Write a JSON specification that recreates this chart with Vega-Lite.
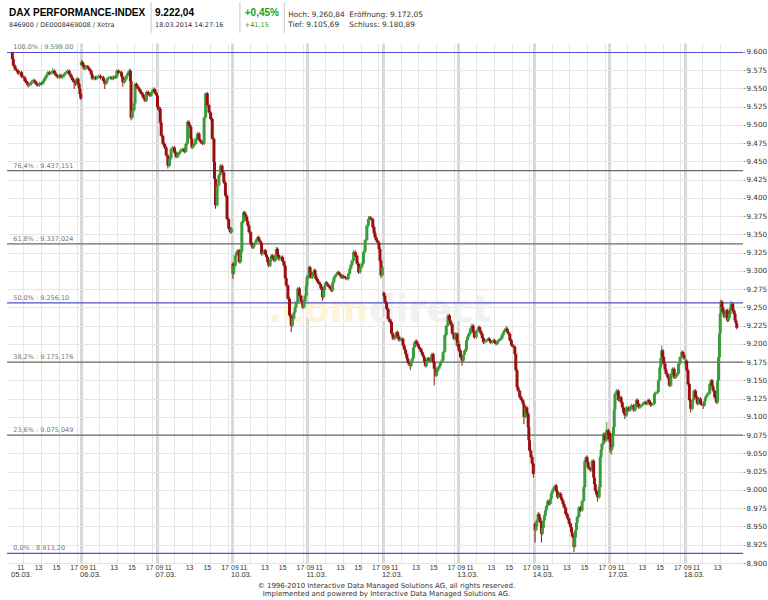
{
"$schema":"https://vega.github.io/schema/vega-lite/v6.json",
"width":736,"height":520,"autosize":"none",
"padding":{"left":7,"top":43,"right":25,"bottom":37},
"background":"white",
"config":{"view":{"stroke":null},"font":"DejaVu Sans"},
"datasets":{
"candles":[
{"t":0.76,"o":9599,"h":9600,"l":9588,"c":9590},{"t":0.87,"o":9590,"h":9592,"l":9579,"c":9581},{"t":1.06,"o":9581,"h":9583,"l":9574,"c":9576},{"t":1.24,"o":9576,"h":9578,"l":9572,"c":9574},{"t":1.42,"o":9574,"h":9576,"l":9568,"c":9570},{"t":1.61,"o":9570,"h":9574,"l":9568,"c":9572},{"t":1.8,"o":9572,"h":9574,"l":9564,"c":9566},{"t":1.98,"o":9566,"h":9568,"l":9563,"c":9565},{"t":2.17,"o":9565,"h":9567,"l":9558,"c":9560},{"t":2.36,"o":9560,"h":9562,"l":9555,"c":9557},{"t":2.53,"o":9557,"h":9559,"l":9551,"c":9554},{"t":2.72,"o":9554,"h":9558,"l":9552,"c":9556},{"t":2.91,"o":9556,"h":9561,"l":9554,"c":9559},{"t":3.09,"o":9559,"h":9563,"l":9557,"c":9561},{"t":3.28,"o":9561,"h":9563,"l":9556,"c":9558},{"t":3.47,"o":9558,"h":9560,"l":9553,"c":9555},{"t":3.64,"o":9555,"h":9557,"l":9552,"c":9554},{"t":3.83,"o":9554,"h":9559,"l":9552,"c":9557},{"t":4.02,"o":9557,"h":9559,"l":9554,"c":9556},{"t":4.2,"o":9556,"h":9562,"l":9554,"c":9560},{"t":4.39,"o":9560,"h":9566,"l":9558,"c":9564},{"t":4.58,"o":9564,"h":9570,"l":9562,"c":9568},{"t":4.76,"o":9568,"h":9574,"l":9566,"c":9572},{"t":4.94,"o":9572,"h":9574,"l":9568,"c":9570},{"t":5.13,"o":9570,"h":9574,"l":9568,"c":9572},{"t":5.31,"o":9572,"h":9578,"l":9570,"c":9574},{"t":5.5,"o":9574,"h":9576,"l":9568,"c":9570},{"t":5.69,"o":9570,"h":9572,"l":9565,"c":9567},{"t":5.87,"o":9567,"h":9569,"l":9563,"c":9565},{"t":6.06,"o":9565,"h":9570,"l":9563,"c":9568},{"t":6.24,"o":9568,"h":9570,"l":9563,"c":9565},{"t":6.42,"o":9565,"h":9569,"l":9563,"c":9567},{"t":6.61,"o":9567,"h":9572,"l":9565,"c":9570},{"t":6.8,"o":9570,"h":9574,"l":9568,"c":9572},{"t":6.98,"o":9572,"h":9576,"l":9570,"c":9574},{"t":7.17,"o":9574,"h":9576,"l":9567,"c":9569},{"t":7.36,"o":9569,"h":9571,"l":9563,"c":9565},{"t":7.53,"o":9565,"h":9567,"l":9559,"c":9561},{"t":7.72,"o":9561,"h":9563,"l":9549,"c":9558},{"t":7.87,"o":9558,"h":9560,"l":9553,"c":9556},{"t":8.02,"o":9556,"h":9565,"l":9554,"c":9563},{"t":8.17,"o":9563,"h":9565,"l":9554,"c":9556},{"t":8.28,"o":9556,"h":9558,"l":9548,"c":9550},{"t":8.37,"o":9550,"h":9552,"l":9540,"c":9542},{"t":8.47,"o":9542,"h":9544,"l":9534,"c":9536},
{"t":8.53,"o":9582,"h":9589,"l":9580,"c":9586},{"t":8.67,"o":9586,"h":9588,"l":9580,"c":9582},{"t":8.83,"o":9582,"h":9584,"l":9575,"c":9577},{"t":9.02,"o":9577,"h":9582,"l":9575,"c":9580},{"t":9.2,"o":9580,"h":9582,"l":9577,"c":9579},{"t":9.36,"o":9579,"h":9581,"l":9574,"c":9576},{"t":9.5,"o":9576,"h":9578,"l":9572,"c":9574},{"t":9.64,"o":9574,"h":9576,"l":9567,"c":9569},{"t":9.76,"o":9569,"h":9571,"l":9561,"c":9563},{"t":9.94,"o":9563,"h":9567,"l":9561,"c":9565},{"t":10.13,"o":9565,"h":9567,"l":9561,"c":9563},{"t":10.31,"o":9563,"h":9568,"l":9561,"c":9566},{"t":10.5,"o":9566,"h":9569,"l":9564,"c":9567},{"t":10.69,"o":9567,"h":9569,"l":9562,"c":9564},{"t":10.87,"o":9564,"h":9567,"l":9562,"c":9565},{"t":11.02,"o":9565,"h":9567,"l":9558,"c":9560},{"t":11.17,"o":9560,"h":9562,"l":9549,"c":9556},{"t":11.31,"o":9556,"h":9560,"l":9554,"c":9558},{"t":11.42,"o":9558,"h":9565,"l":9556,"c":9563},{"t":11.61,"o":9563,"h":9567,"l":9561,"c":9565},{"t":11.8,"o":9565,"h":9567,"l":9562,"c":9565},{"t":11.98,"o":9565,"h":9567,"l":9561,"c":9563},{"t":12.17,"o":9563,"h":9568,"l":9561,"c":9566},{"t":12.36,"o":9566,"h":9568,"l":9563,"c":9565},{"t":12.53,"o":9565,"h":9576,"l":9563,"c":9574},{"t":12.72,"o":9574,"h":9576,"l":9569,"c":9571},{"t":12.91,"o":9571,"h":9574,"l":9569,"c":9572},{"t":13.06,"o":9572,"h":9574,"l":9564,"c":9566},{"t":13.2,"o":9566,"h":9568,"l":9552,"c":9558},{"t":13.39,"o":9558,"h":9564,"l":9556,"c":9562},{"t":13.58,"o":9562,"h":9569,"l":9560,"c":9567},{"t":13.76,"o":9567,"h":9573,"l":9565,"c":9571},{"t":13.94,"o":9571,"h":9577,"l":9569,"c":9574},{"t":14.06,"o":9574,"h":9576,"l":9558,"c":9560},{"t":14.13,"o":9560,"h":9562,"l":9506,"c":9510},{"t":14.28,"o":9510,"h":9522,"l":9508,"c":9520},{"t":14.47,"o":9520,"h":9531,"l":9518,"c":9529},{"t":14.58,"o":9529,"h":9558,"l":9527,"c":9556},{"t":14.76,"o":9556,"h":9558,"l":9550,"c":9552},{"t":14.94,"o":9552,"h":9554,"l":9547,"c":9549},{"t":15.13,"o":9549,"h":9551,"l":9543,"c":9545},{"t":15.31,"o":9545,"h":9547,"l":9540,"c":9542},{"t":15.5,"o":9542,"h":9544,"l":9535,"c":9537},{"t":15.69,"o":9537,"h":9539,"l":9531,"c":9533},{"t":15.87,"o":9533,"h":9547,"l":9531,"c":9545},{"t":16.06,"o":9545,"h":9547,"l":9540,"c":9542},{"t":16.24,"o":9542,"h":9544,"l":9538,"c":9540},{"t":16.42,"o":9540,"h":9547,"l":9538,"c":9545},{"t":16.61,"o":9545,"h":9551,"l":9543,"c":9549},{"t":16.8,"o":9549,"h":9551,"l":9542,"c":9544},{"t":16.98,"o":9544,"h":9546,"l":9538,"c":9540},
{"t":17.11,"o":9540,"h":9542,"l":9520,"c":9524},{"t":17.28,"o":9524,"h":9526,"l":9518,"c":9522},{"t":17.42,"o":9522,"h":9524,"l":9500,"c":9503},{"t":17.53,"o":9503,"h":9505,"l":9483,"c":9485},{"t":17.72,"o":9485,"h":9487,"l":9472,"c":9474},{"t":17.91,"o":9474,"h":9476,"l":9467,"c":9469},{"t":18.09,"o":9469,"h":9471,"l":9456,"c":9458},{"t":18.28,"o":9458,"h":9460,"l":9440,"c":9444},{"t":18.47,"o":9444,"h":9456,"l":9442,"c":9454},{"t":18.64,"o":9454,"h":9469,"l":9452,"c":9467},{"t":18.83,"o":9467,"h":9471,"l":9465,"c":9469},{"t":19.02,"o":9469,"h":9471,"l":9460,"c":9462},{"t":19.2,"o":9462,"h":9464,"l":9454,"c":9456},{"t":19.39,"o":9456,"h":9462,"l":9454,"c":9460},{"t":19.58,"o":9460,"h":9465,"l":9458,"c":9463},{"t":19.76,"o":9463,"h":9468,"l":9461,"c":9466},{"t":19.94,"o":9466,"h":9469,"l":9464,"c":9467},{"t":20.13,"o":9467,"h":9469,"l":9461,"c":9463},{"t":20.31,"o":9463,"h":9476,"l":9461,"c":9474},{"t":20.5,"o":9474,"h":9506,"l":9472,"c":9504},{"t":20.63,"o":9504,"h":9506,"l":9498,"c":9500},{"t":20.76,"o":9500,"h":9502,"l":9495,"c":9497},{"t":20.87,"o":9497,"h":9499,"l":9479,"c":9481},{"t":20.98,"o":9481,"h":9483,"l":9467,"c":9469},{"t":21.11,"o":9469,"h":9474,"l":9467,"c":9472},{"t":21.24,"o":9472,"h":9476,"l":9470,"c":9474},{"t":21.42,"o":9474,"h":9483,"l":9472,"c":9481},{"t":21.61,"o":9481,"h":9490,"l":9479,"c":9488},{"t":21.8,"o":9488,"h":9490,"l":9477,"c":9479},{"t":21.98,"o":9479,"h":9481,"l":9474,"c":9476},{"t":22.17,"o":9476,"h":9478,"l":9472,"c":9474},{"t":22.36,"o":9474,"h":9512,"l":9472,"c":9510},{"t":22.53,"o":9510,"h":9544,"l":9508,"c":9543},{"t":22.72,"o":9543,"h":9545,"l":9525,"c":9527},{"t":22.91,"o":9527,"h":9529,"l":9515,"c":9517},{"t":23.09,"o":9517,"h":9519,"l":9506,"c":9508},{"t":23.28,"o":9508,"h":9510,"l":9479,"c":9481},{"t":23.47,"o":9481,"h":9483,"l":9447,"c":9449},{"t":23.53,"o":9449,"h":9451,"l":9424,"c":9426},{"t":23.64,"o":9426,"h":9428,"l":9385,"c":9390},{"t":23.83,"o":9390,"h":9419,"l":9388,"c":9417},{"t":24.02,"o":9417,"h":9433,"l":9415,"c":9431},{"t":24.2,"o":9431,"h":9446,"l":9429,"c":9444},{"t":24.39,"o":9444,"h":9446,"l":9433,"c":9435},{"t":24.58,"o":9435,"h":9437,"l":9419,"c":9421},{"t":24.76,"o":9421,"h":9423,"l":9401,"c":9403},{"t":24.94,"o":9403,"h":9405,"l":9369,"c":9371},{"t":25.13,"o":9371,"h":9373,"l":9356,"c":9358},{"t":25.31,"o":9358,"h":9360,"l":9351,"c":9353},{"t":25.44,"o":9353,"h":9360,"l":9351,"c":9358},
{"t":25.61,"o":9310,"h":9312,"l":9289,"c":9296},{"t":25.69,"o":9296,"h":9309,"l":9294,"c":9307},{"t":25.87,"o":9307,"h":9323,"l":9305,"c":9321},{"t":26.02,"o":9321,"h":9328,"l":9319,"c":9326},{"t":26.17,"o":9326,"h":9330,"l":9324,"c":9328},{"t":26.31,"o":9328,"h":9330,"l":9310,"c":9312},{"t":26.47,"o":9312,"h":9328,"l":9310,"c":9326},{"t":26.61,"o":9326,"h":9369,"l":9324,"c":9367},{"t":26.8,"o":9367,"h":9382,"l":9365,"c":9380},{"t":26.94,"o":9380,"h":9382,"l":9375,"c":9377},{"t":27.06,"o":9377,"h":9379,"l":9372,"c":9374},{"t":27.17,"o":9374,"h":9376,"l":9366,"c":9368},{"t":27.28,"o":9368,"h":9370,"l":9360,"c":9362},{"t":27.42,"o":9362,"h":9364,"l":9351,"c":9353},{"t":27.61,"o":9353,"h":9355,"l":9335,"c":9337},{"t":27.8,"o":9337,"h":9339,"l":9330,"c":9332},{"t":27.94,"o":9332,"h":9338,"l":9330,"c":9336},{"t":28.09,"o":9336,"h":9341,"l":9334,"c":9339},{"t":28.24,"o":9339,"h":9345,"l":9337,"c":9343},{"t":28.39,"o":9343,"h":9348,"l":9341,"c":9346},{"t":28.52,"o":9346,"h":9348,"l":9340,"c":9342},{"t":28.64,"o":9342,"h":9344,"l":9337,"c":9339},{"t":28.83,"o":9339,"h":9341,"l":9321,"c":9323},{"t":28.98,"o":9323,"h":9328,"l":9321,"c":9326},{"t":29.13,"o":9326,"h":9330,"l":9324,"c":9328},{"t":29.28,"o":9328,"h":9330,"l":9320,"c":9322},{"t":29.39,"o":9322,"h":9324,"l":9317,"c":9319},{"t":29.52,"o":9319,"h":9321,"l":9310,"c":9312},{"t":29.64,"o":9312,"h":9314,"l":9305,"c":9307},{"t":29.8,"o":9307,"h":9317,"l":9305,"c":9315},{"t":29.94,"o":9315,"h":9323,"l":9313,"c":9321},{"t":30.09,"o":9321,"h":9323,"l":9316,"c":9318},{"t":30.24,"o":9318,"h":9320,"l":9312,"c":9314},{"t":30.39,"o":9314,"h":9324,"l":9312,"c":9322},{"t":30.5,"o":9322,"h":9333,"l":9320,"c":9330},{"t":30.63,"o":9330,"h":9332,"l":9320,"c":9322},{"t":30.76,"o":9322,"h":9324,"l":9314,"c":9316},{"t":30.91,"o":9316,"h":9320,"l":9314,"c":9318},{"t":31.06,"o":9318,"h":9321,"l":9316,"c":9319},{"t":31.2,"o":9319,"h":9321,"l":9311,"c":9313},{"t":31.36,"o":9313,"h":9315,"l":9305,"c":9307},{"t":31.5,"o":9307,"h":9309,"l":9288,"c":9290},{"t":31.61,"o":9290,"h":9292,"l":9278,"c":9280},{"t":31.8,"o":9280,"h":9282,"l":9260,"c":9262},{"t":31.98,"o":9262,"h":9264,"l":9237,"c":9239},{"t":32.17,"o":9239,"h":9241,"l":9216,"c":9225},{"t":32.31,"o":9225,"h":9237,"l":9223,"c":9235},{"t":32.47,"o":9235,"h":9245,"l":9233,"c":9243},{"t":32.61,"o":9243,"h":9252,"l":9241,"c":9250},{"t":32.72,"o":9250,"h":9259,"l":9248,"c":9257},{"t":32.91,"o":9257,"h":9278,"l":9255,"c":9276},{"t":33.09,"o":9276,"h":9278,"l":9264,"c":9266},{"t":33.28,"o":9266,"h":9268,"l":9256,"c":9258},{"t":33.47,"o":9258,"h":9260,"l":9248,"c":9250},{"t":33.61,"o":9250,"h":9260,"l":9248,"c":9258},{"t":33.72,"o":9258,"h":9268,"l":9256,"c":9266},{"t":33.87,"o":9266,"h":9282,"l":9264,"c":9280},{"t":33.95,"o":9280,"h":9294,"l":9278,"c":9292},
{"t":34.11,"o":9290,"h":9296,"l":9288,"c":9294},{"t":34.2,"o":9294,"h":9307,"l":9292,"c":9305},{"t":34.3,"o":9305,"h":9307,"l":9296,"c":9298},{"t":34.39,"o":9298,"h":9300,"l":9289,"c":9291},{"t":34.58,"o":9291,"h":9298,"l":9289,"c":9296},{"t":34.76,"o":9296,"h":9303,"l":9294,"c":9301},{"t":34.86,"o":9301,"h":9303,"l":9293,"c":9295},{"t":34.94,"o":9295,"h":9297,"l":9287,"c":9289},{"t":35.13,"o":9289,"h":9291,"l":9283,"c":9285},{"t":35.31,"o":9285,"h":9287,"l":9280,"c":9282},{"t":35.5,"o":9282,"h":9284,"l":9274,"c":9276},{"t":35.69,"o":9276,"h":9278,"l":9259,"c":9264},{"t":35.83,"o":9264,"h":9276,"l":9262,"c":9274},{"t":35.94,"o":9274,"h":9282,"l":9272,"c":9280},{"t":36.06,"o":9280,"h":9286,"l":9278,"c":9284},{"t":36.17,"o":9284,"h":9286,"l":9280,"c":9282},{"t":36.3,"o":9282,"h":9284,"l":9278,"c":9280},{"t":36.42,"o":9280,"h":9282,"l":9276,"c":9278},{"t":36.56,"o":9278,"h":9280,"l":9274,"c":9276},{"t":36.69,"o":9276,"h":9278,"l":9271,"c":9273},{"t":36.83,"o":9273,"h":9286,"l":9271,"c":9284},{"t":36.98,"o":9284,"h":9293,"l":9282,"c":9291},{"t":37.13,"o":9291,"h":9296,"l":9289,"c":9294},{"t":37.28,"o":9294,"h":9298,"l":9292,"c":9296},{"t":37.41,"o":9296,"h":9300,"l":9294,"c":9298},{"t":37.53,"o":9298,"h":9300,"l":9294,"c":9296},{"t":37.67,"o":9296,"h":9298,"l":9292,"c":9294},{"t":37.8,"o":9294,"h":9296,"l":9289,"c":9291},{"t":37.94,"o":9291,"h":9295,"l":9289,"c":9293},{"t":38.09,"o":9293,"h":9295,"l":9289,"c":9291},{"t":38.28,"o":9291,"h":9293,"l":9288,"c":9290},{"t":38.47,"o":9290,"h":9292,"l":9287,"c":9289},{"t":38.61,"o":9289,"h":9298,"l":9287,"c":9296},{"t":38.76,"o":9296,"h":9305,"l":9294,"c":9303},{"t":38.89,"o":9303,"h":9310,"l":9301,"c":9308},{"t":39.02,"o":9308,"h":9316,"l":9306,"c":9314},{"t":39.2,"o":9314,"h":9329,"l":9312,"c":9326},{"t":39.39,"o":9326,"h":9328,"l":9319,"c":9321},{"t":39.58,"o":9321,"h":9323,"l":9308,"c":9310},{"t":39.76,"o":9310,"h":9312,"l":9296,"c":9298},{"t":39.94,"o":9298,"h":9307,"l":9296,"c":9305},{"t":40.13,"o":9305,"h":9312,"l":9303,"c":9310},{"t":40.31,"o":9310,"h":9328,"l":9308,"c":9326},{"t":40.5,"o":9326,"h":9344,"l":9324,"c":9342},{"t":40.69,"o":9342,"h":9364,"l":9340,"c":9362},{"t":40.87,"o":9362,"h":9375,"l":9360,"c":9371},{"t":41.0,"o":9371,"h":9375,"l":9369,"c":9373},{"t":41.13,"o":9373,"h":9375,"l":9369,"c":9371},{"t":41.36,"o":9371,"h":9373,"l":9358,"c":9360},{"t":41.5,"o":9360,"h":9362,"l":9350,"c":9352},{"t":41.61,"o":9352,"h":9354,"l":9344,"c":9346},{"t":41.74,"o":9346,"h":9348,"l":9340,"c":9342},{"t":41.87,"o":9342,"h":9344,"l":9337,"c":9339},{"t":42.06,"o":9339,"h":9341,"l":9328,"c":9330},{"t":42.17,"o":9330,"h":9332,"l":9312,"c":9314},{"t":42.28,"o":9314,"h":9316,"l":9290,"c":9294},{"t":42.44,"o":9294,"h":9307,"l":9292,"c":9305},
{"t":42.61,"o":9270,"h":9272,"l":9264,"c":9266},{"t":42.72,"o":9266,"h":9268,"l":9255,"c":9257},{"t":42.91,"o":9257,"h":9259,"l":9246,"c":9248},{"t":43.09,"o":9248,"h":9250,"l":9232,"c":9234},{"t":43.28,"o":9234,"h":9236,"l":9228,"c":9230},{"t":43.47,"o":9230,"h":9232,"l":9212,"c":9214},{"t":43.64,"o":9214,"h":9216,"l":9205,"c":9207},{"t":43.83,"o":9207,"h":9211,"l":9205,"c":9209},{"t":44.02,"o":9209,"h":9218,"l":9207,"c":9216},{"t":44.17,"o":9216,"h":9218,"l":9208,"c":9210},{"t":44.31,"o":9210,"h":9212,"l":9203,"c":9205},{"t":44.44,"o":9205,"h":9208,"l":9203,"c":9206},{"t":44.58,"o":9206,"h":9209,"l":9204,"c":9207},{"t":44.76,"o":9207,"h":9209,"l":9196,"c":9198},{"t":44.91,"o":9198,"h":9200,"l":9190,"c":9192},{"t":45.06,"o":9192,"h":9194,"l":9184,"c":9186},{"t":45.19,"o":9186,"h":9188,"l":9178,"c":9180},{"t":45.31,"o":9180,"h":9182,"l":9173,"c":9175},{"t":45.44,"o":9175,"h":9177,"l":9170,"c":9172},{"t":45.58,"o":9172,"h":9174,"l":9164,"c":9170},{"t":45.69,"o":9170,"h":9178,"l":9168,"c":9176},{"t":45.8,"o":9176,"h":9182,"l":9174,"c":9180},{"t":45.94,"o":9180,"h":9197,"l":9178,"c":9195},{"t":46.06,"o":9195,"h":9204,"l":9193,"c":9202},{"t":46.19,"o":9202,"h":9206,"l":9200,"c":9204},{"t":46.31,"o":9204,"h":9206,"l":9198,"c":9200},{"t":46.47,"o":9200,"h":9202,"l":9194,"c":9196},{"t":46.61,"o":9196,"h":9198,"l":9191,"c":9193},{"t":46.8,"o":9193,"h":9195,"l":9187,"c":9189},{"t":46.94,"o":9189,"h":9191,"l":9183,"c":9185},{"t":47.06,"o":9185,"h":9187,"l":9180,"c":9182},{"t":47.17,"o":9182,"h":9184,"l":9174,"c":9176},{"t":47.28,"o":9176,"h":9178,"l":9168,"c":9170},{"t":47.41,"o":9170,"h":9178,"l":9168,"c":9176},{"t":47.53,"o":9176,"h":9182,"l":9174,"c":9180},{"t":47.67,"o":9180,"h":9182,"l":9176,"c":9178},{"t":47.8,"o":9178,"h":9180,"l":9175,"c":9177},{"t":47.91,"o":9177,"h":9184,"l":9175,"c":9182},{"t":48.02,"o":9182,"h":9188,"l":9180,"c":9186},{"t":48.17,"o":9186,"h":9188,"l":9173,"c":9175},{"t":48.28,"o":9175,"h":9177,"l":9143,"c":9166},{"t":48.47,"o":9166,"h":9168,"l":9155,"c":9157},{"t":48.56,"o":9157,"h":9164,"l":9155,"c":9162},{"t":48.64,"o":9162,"h":9168,"l":9160,"c":9166},{"t":48.83,"o":9166,"h":9172,"l":9164,"c":9170},{"t":48.97,"o":9170,"h":9176,"l":9168,"c":9174},{"t":49.09,"o":9174,"h":9179,"l":9172,"c":9177},{"t":49.28,"o":9177,"h":9191,"l":9175,"c":9189},{"t":49.47,"o":9189,"h":9214,"l":9187,"c":9212},{"t":49.64,"o":9212,"h":9227,"l":9210,"c":9225},{"t":49.83,"o":9225,"h":9241,"l":9223,"c":9239},{"t":50.0,"o":9239,"h":9241,"l":9230,"c":9232},{"t":50.13,"o":9232,"h":9234,"l":9225,"c":9227},{"t":50.31,"o":9227,"h":9229,"l":9212,"c":9214},{"t":50.5,"o":9214,"h":9216,"l":9205,"c":9207},{"t":50.69,"o":9207,"h":9216,"l":9205,"c":9214},{"t":50.87,"o":9214,"h":9216,"l":9196,"c":9198},{"t":50.96,"o":9198,"h":9204,"l":9196,"c":9202},
{"t":51.06,"o":9200,"h":9204,"l":9189,"c":9191},{"t":51.24,"o":9191,"h":9193,"l":9180,"c":9182},{"t":51.42,"o":9182,"h":9184,"l":9170,"c":9177},{"t":51.56,"o":9177,"h":9187,"l":9175,"c":9185},{"t":51.69,"o":9185,"h":9193,"l":9183,"c":9191},{"t":51.91,"o":9191,"h":9207,"l":9189,"c":9205},{"t":52.03,"o":9205,"h":9212,"l":9203,"c":9210},{"t":52.17,"o":9210,"h":9216,"l":9208,"c":9214},{"t":52.36,"o":9214,"h":9223,"l":9212,"c":9221},{"t":52.53,"o":9221,"h":9228,"l":9219,"c":9225},{"t":52.67,"o":9225,"h":9227,"l":9214,"c":9216},{"t":52.8,"o":9216,"h":9218,"l":9207,"c":9209},{"t":53.02,"o":9209,"h":9220,"l":9207,"c":9218},{"t":53.28,"o":9218,"h":9225,"l":9216,"c":9223},{"t":53.41,"o":9223,"h":9225,"l":9216,"c":9218},{"t":53.53,"o":9218,"h":9220,"l":9212,"c":9214},{"t":53.69,"o":9214,"h":9216,"l":9206,"c":9208},{"t":53.83,"o":9208,"h":9210,"l":9200,"c":9202},{"t":53.98,"o":9202,"h":9206,"l":9200,"c":9204},{"t":54.13,"o":9204,"h":9207,"l":9202,"c":9205},{"t":54.28,"o":9205,"h":9208,"l":9203,"c":9206},{"t":54.39,"o":9206,"h":9209,"l":9204,"c":9207},{"t":54.52,"o":9207,"h":9209,"l":9202,"c":9204},{"t":54.64,"o":9204,"h":9206,"l":9200,"c":9202},{"t":54.8,"o":9202,"h":9205,"l":9200,"c":9203},{"t":54.94,"o":9203,"h":9207,"l":9201,"c":9205},{"t":55.09,"o":9205,"h":9207,"l":9200,"c":9202},{"t":55.24,"o":9202,"h":9204,"l":9198,"c":9200},{"t":55.39,"o":9200,"h":9205,"l":9198,"c":9203},{"t":55.5,"o":9203,"h":9207,"l":9201,"c":9205},{"t":55.63,"o":9205,"h":9208,"l":9203,"c":9206},{"t":55.76,"o":9206,"h":9209,"l":9204,"c":9207},{"t":55.91,"o":9207,"h":9214,"l":9205,"c":9212},{"t":56.06,"o":9212,"h":9218,"l":9210,"c":9216},{"t":56.2,"o":9216,"h":9221,"l":9214,"c":9219},{"t":56.36,"o":9219,"h":9225,"l":9217,"c":9221},{"t":56.5,"o":9221,"h":9223,"l":9215,"c":9217},{"t":56.61,"o":9217,"h":9219,"l":9212,"c":9214},{"t":56.8,"o":9214,"h":9216,"l":9203,"c":9205},{"t":56.98,"o":9205,"h":9207,"l":9196,"c":9198},{"t":57.17,"o":9198,"h":9200,"l":9194,"c":9196},{"t":57.36,"o":9196,"h":9198,"l":9184,"c":9186},{"t":57.47,"o":9186,"h":9188,"l":9162,"c":9164},{"t":57.61,"o":9164,"h":9166,"l":9139,"c":9141},{"t":57.72,"o":9141,"h":9143,"l":9134,"c":9136},{"t":57.91,"o":9136,"h":9138,"l":9125,"c":9127},{"t":58.09,"o":9127,"h":9129,"l":9121,"c":9123},{"t":58.28,"o":9123,"h":9125,"l":9116,"c":9118},{"t":58.39,"o":9118,"h":9120,"l":9090,"c":9100},{"t":58.58,"o":9100,"h":9115,"l":9098,"c":9113},{"t":58.72,"o":9113,"h":9115,"l":9102,"c":9104},{"t":58.87,"o":9104,"h":9106,"l":9084,"c":9086},{"t":58.94,"o":9086,"h":9088,"l":9066,"c":9068},{"t":59.02,"o":9068,"h":9070,"l":9052,"c":9054},{"t":59.17,"o":9054,"h":9056,"l":9043,"c":9045},{"t":59.31,"o":9045,"h":9047,"l":9034,"c":9036},{"t":59.44,"o":9036,"h":9038,"l":9017,"c":9022},
{"t":59.64,"o":8954,"h":8956,"l":8928,"c":8945},{"t":59.74,"o":8945,"h":8952,"l":8943,"c":8950},{"t":59.83,"o":8950,"h":8960,"l":8948,"c":8958},{"t":59.98,"o":8958,"h":8970,"l":8956,"c":8967},{"t":60.09,"o":8967,"h":8969,"l":8960,"c":8962},{"t":60.2,"o":8962,"h":8964,"l":8954,"c":8956},{"t":60.36,"o":8956,"h":8958,"l":8928,"c":8940},{"t":60.47,"o":8940,"h":8950,"l":8938,"c":8948},{"t":60.58,"o":8948,"h":8960,"l":8946,"c":8958},{"t":60.69,"o":8958,"h":8967,"l":8956,"c":8965},{"t":60.8,"o":8965,"h":8974,"l":8963,"c":8972},{"t":60.92,"o":8972,"h":8980,"l":8970,"c":8978},{"t":61.06,"o":8978,"h":8987,"l":8976,"c":8985},{"t":61.24,"o":8985,"h":8987,"l":8979,"c":8981},{"t":61.36,"o":8981,"h":8990,"l":8979,"c":8988},{"t":61.47,"o":8988,"h":8997,"l":8986,"c":8995},{"t":61.58,"o":8995,"h":9001,"l":8993,"c":8999},{"t":61.69,"o":8999,"h":9004,"l":8997,"c":9002},{"t":61.8,"o":9002,"h":9006,"l":9000,"c":9004},{"t":61.91,"o":9004,"h":9008,"l":9002,"c":9006},{"t":62.03,"o":9006,"h":9008,"l":8996,"c":8998},{"t":62.17,"o":8998,"h":9000,"l":8988,"c":8990},{"t":62.3,"o":8990,"h":8995,"l":8988,"c":8993},{"t":62.42,"o":8993,"h":8997,"l":8991,"c":8995},{"t":62.53,"o":8995,"h":8997,"l":8988,"c":8990},{"t":62.64,"o":8990,"h":8992,"l":8984,"c":8986},{"t":62.78,"o":8986,"h":8988,"l":8979,"c":8981},{"t":62.91,"o":8981,"h":8983,"l":8974,"c":8976},{"t":63.09,"o":8976,"h":8978,"l":8965,"c":8967},{"t":63.28,"o":8967,"h":8969,"l":8959,"c":8961},{"t":63.47,"o":8961,"h":8963,"l":8952,"c":8954},{"t":63.64,"o":8954,"h":8956,"l":8947,"c":8949},{"t":63.74,"o":8949,"h":8951,"l":8940,"c":8942},{"t":63.83,"o":8942,"h":8944,"l":8934,"c":8936},{"t":64.02,"o":8936,"h":8938,"l":8915,"c":8922},{"t":64.11,"o":8922,"h":8937,"l":8920,"c":8935},{"t":64.2,"o":8935,"h":8947,"l":8933,"c":8945},{"t":64.3,"o":8945,"h":8957,"l":8943,"c":8955},{"t":64.39,"o":8955,"h":8965,"l":8953,"c":8963},{"t":64.58,"o":8963,"h":8978,"l":8961,"c":8976},{"t":64.76,"o":8976,"h":8978,"l":8970,"c":8972},{"t":64.94,"o":8972,"h":8987,"l":8970,"c":8985},{"t":65.13,"o":8985,"h":9006,"l":8983,"c":9004},{"t":65.24,"o":9004,"h":9042,"l":9002,"c":9040},{"t":65.39,"o":9040,"h":9047,"l":9038,"c":9045},{"t":65.5,"o":9045,"h":9047,"l":9036,"c":9038},{"t":65.61,"o":9038,"h":9040,"l":9029,"c":9031},{"t":65.74,"o":9031,"h":9033,"l":9027,"c":9029},{"t":65.87,"o":9029,"h":9031,"l":9025,"c":9027},{"t":66.06,"o":9027,"h":9042,"l":9025,"c":9040},{"t":66.24,"o":9040,"h":9042,"l":9015,"c":9017},{"t":66.33,"o":9017,"h":9019,"l":9006,"c":9008},{"t":66.42,"o":9008,"h":9010,"l":8997,"c":8999},{"t":66.56,"o":8999,"h":9001,"l":8992,"c":8994},{"t":66.69,"o":8994,"h":8996,"l":8984,"c":8990},{"t":66.87,"o":8990,"h":9006,"l":8988,"c":9004},{"t":66.98,"o":9004,"h":9047,"l":9002,"c":9045},{"t":67.08,"o":9045,"h":9057,"l":9043,"c":9055},{"t":67.17,"o":9055,"h":9065,"l":9053,"c":9063},{"t":67.36,"o":9063,"h":9079,"l":9061,"c":9077},{"t":67.53,"o":9077,"h":9079,"l":9066,"c":9068},{"t":67.72,"o":9068,"h":9093,"l":9066,"c":9082},{"t":67.89,"o":9082,"h":9084,"l":9073,"c":9075},{"t":67.97,"o":9075,"h":9077,"l":9068,"c":9070},
{"t":68.09,"o":9078,"h":9080,"l":9050,"c":9065},{"t":68.19,"o":9065,"h":9067,"l":9053,"c":9055},{"t":68.28,"o":9055,"h":9061,"l":9048,"c":9059},{"t":68.39,"o":9059,"h":9077,"l":9057,"c":9075},{"t":68.47,"o":9075,"h":9088,"l":9073,"c":9086},{"t":68.56,"o":9086,"h":9112,"l":9084,"c":9110},{"t":68.64,"o":9110,"h":9134,"l":9108,"c":9132},{"t":68.83,"o":9132,"h":9138,"l":9130,"c":9136},{"t":69.02,"o":9136,"h":9138,"l":9121,"c":9123},{"t":69.2,"o":9123,"h":9129,"l":9121,"c":9127},{"t":69.33,"o":9127,"h":9129,"l":9118,"c":9120},{"t":69.47,"o":9120,"h":9122,"l":9111,"c":9113},{"t":69.61,"o":9113,"h":9115,"l":9104,"c":9106},{"t":69.76,"o":9106,"h":9108,"l":9097,"c":9102},{"t":69.94,"o":9102,"h":9115,"l":9100,"c":9113},{"t":70.2,"o":9113,"h":9115,"l":9107,"c":9109},{"t":70.36,"o":9109,"h":9115,"l":9107,"c":9113},{"t":70.5,"o":9113,"h":9118,"l":9111,"c":9116},{"t":70.76,"o":9116,"h":9118,"l":9107,"c":9109},{"t":70.91,"o":9109,"h":9117,"l":9107,"c":9115},{"t":71.06,"o":9115,"h":9125,"l":9113,"c":9123},{"t":71.19,"o":9123,"h":9125,"l":9116,"c":9118},{"t":71.31,"o":9118,"h":9120,"l":9111,"c":9113},{"t":71.47,"o":9113,"h":9117,"l":9111,"c":9115},{"t":71.61,"o":9115,"h":9118,"l":9113,"c":9116},{"t":71.76,"o":9116,"h":9120,"l":9114,"c":9118},{"t":71.91,"o":9118,"h":9122,"l":9116,"c":9120},{"t":72.06,"o":9120,"h":9122,"l":9117,"c":9119},{"t":72.17,"o":9119,"h":9121,"l":9116,"c":9118},{"t":72.36,"o":9118,"h":9125,"l":9116,"c":9123},{"t":72.5,"o":9123,"h":9125,"l":9118,"c":9120},{"t":72.64,"o":9120,"h":9122,"l":9114,"c":9116},{"t":72.78,"o":9116,"h":9119,"l":9114,"c":9117},{"t":72.91,"o":9117,"h":9120,"l":9115,"c":9118},{"t":73.09,"o":9118,"h":9134,"l":9116,"c":9132},{"t":73.24,"o":9132,"h":9135,"l":9130,"c":9133},{"t":73.39,"o":9133,"h":9136,"l":9131,"c":9134},{"t":73.53,"o":9134,"h":9152,"l":9132,"c":9150},{"t":73.69,"o":9150,"h":9170,"l":9148,"c":9168},{"t":73.8,"o":9168,"h":9182,"l":9166,"c":9180},{"t":73.91,"o":9180,"h":9198,"l":9178,"c":9191},{"t":74.02,"o":9191,"h":9193,"l":9180,"c":9182},{"t":74.13,"o":9182,"h":9184,"l":9171,"c":9173},{"t":74.28,"o":9173,"h":9175,"l":9163,"c":9165},{"t":74.39,"o":9165,"h":9167,"l":9157,"c":9159},{"t":74.58,"o":9159,"h":9161,"l":9152,"c":9154},{"t":74.76,"o":9154,"h":9156,"l":9141,"c":9143},{"t":74.94,"o":9143,"h":9161,"l":9141,"c":9159},{"t":75.13,"o":9159,"h":9168,"l":9157,"c":9166},{"t":75.31,"o":9166,"h":9168,"l":9152,"c":9154},{"t":75.47,"o":9154,"h":9158,"l":9152,"c":9156},{"t":75.61,"o":9156,"h":9161,"l":9154,"c":9159},{"t":75.8,"o":9159,"h":9175,"l":9157,"c":9173},{"t":75.98,"o":9173,"h":9184,"l":9171,"c":9182},{"t":76.17,"o":9182,"h":9191,"l":9180,"c":9189},{"t":76.3,"o":9189,"h":9191,"l":9183,"c":9185},{"t":76.42,"o":9185,"h":9187,"l":9178,"c":9180},
{"t":76.61,"o":9172,"h":9180,"l":9170,"c":9177},{"t":76.72,"o":9177,"h":9179,"l":9162,"c":9164},{"t":76.87,"o":9164,"h":9166,"l":9143,"c":9145},{"t":77.02,"o":9145,"h":9147,"l":9121,"c":9123},{"t":77.17,"o":9123,"h":9125,"l":9106,"c":9111},{"t":77.36,"o":9111,"h":9125,"l":9109,"c":9123},{"t":77.53,"o":9123,"h":9138,"l":9121,"c":9136},{"t":77.72,"o":9136,"h":9138,"l":9125,"c":9127},{"t":77.91,"o":9127,"h":9129,"l":9116,"c":9118},{"t":78.09,"o":9118,"h":9127,"l":9116,"c":9125},{"t":78.28,"o":9125,"h":9127,"l":9116,"c":9118},{"t":78.42,"o":9118,"h":9120,"l":9115,"c":9117},{"t":78.58,"o":9117,"h":9119,"l":9111,"c":9116},{"t":78.72,"o":9116,"h":9124,"l":9114,"c":9122},{"t":78.83,"o":9122,"h":9129,"l":9120,"c":9127},{"t":78.97,"o":9127,"h":9132,"l":9125,"c":9130},{"t":79.09,"o":9130,"h":9134,"l":9128,"c":9132},{"t":79.31,"o":9132,"h":9147,"l":9130,"c":9145},{"t":79.47,"o":9145,"h":9152,"l":9143,"c":9150},{"t":79.58,"o":9150,"h":9152,"l":9140,"c":9142},{"t":79.69,"o":9142,"h":9144,"l":9134,"c":9136},{"t":79.87,"o":9136,"h":9138,"l":9125,"c":9127},{"t":80.06,"o":9127,"h":9129,"l":9118,"c":9120},{"t":80.2,"o":9120,"h":9152,"l":9118,"c":9150},{"t":80.31,"o":9150,"h":9184,"l":9148,"c":9182},{"t":80.42,"o":9182,"h":9216,"l":9180,"c":9214},{"t":80.5,"o":9214,"h":9243,"l":9212,"c":9241},{"t":80.58,"o":9241,"h":9261,"l":9239,"c":9258},{"t":80.69,"o":9258,"h":9260,"l":9248,"c":9250},{"t":80.8,"o":9250,"h":9252,"l":9242,"c":9244},{"t":80.94,"o":9244,"h":9246,"l":9235,"c":9237},{"t":81.06,"o":9237,"h":9244,"l":9235,"c":9242},{"t":81.17,"o":9242,"h":9248,"l":9240,"c":9246},{"t":81.31,"o":9246,"h":9248,"l":9230,"c":9232},{"t":81.42,"o":9232,"h":9238,"l":9230,"c":9236},{"t":81.53,"o":9236,"h":9243,"l":9234,"c":9241},{"t":81.63,"o":9241,"h":9251,"l":9239,"c":9249},{"t":81.72,"o":9249,"h":9259,"l":9247,"c":9255},{"t":81.91,"o":9255,"h":9257,"l":9244,"c":9246},{"t":82.06,"o":9246,"h":9248,"l":9239,"c":9241},{"t":82.17,"o":9241,"h":9243,"l":9230,"c":9232},{"t":82.28,"o":9232,"h":9234,"l":9226,"c":9228},{"t":82.36,"o":9228,"h":9230,"l":9220,"c":9222}
],
"fib":[
{"p":9599,"lab":"100,0% : 9.599,00","kind":"main"},
{"p":9437.151,"lab":"76,4% : 9.437,151","kind":"fib"},
{"p":9337.024,"lab":"61,8% : 9.337,024","kind":"fib"},
{"p":9256.1,"lab":"50,0% : 9.256,10","kind":"main"},
{"p":9175.176,"lab":"38,2% : 9.175,176","kind":"fib"},
{"p":9075.049,"lab":"23,6% : 9.075,049","kind":"fib"},
{"p":8913.2,"lab":"0,0% : 8.913,20","kind":"main"}
],
"dates":[
{"t":0.72,"d":"05.03."},{"t":8.5,"d":"06.03."},{"t":17,"d":"07.03."},{"t":25.5,"d":"10.03."},{"t":34,"d":"11.03."},
{"t":42.5,"d":"12.03."},{"t":51,"d":"13.03."},{"t":59.5,"d":"14.03."},{"t":68,"d":"17.03."},{"t":76.5,"d":"18.03."}
],
"headBig":[
{"t":0.39,"p":9649,"txt":"DAX PERFORMANCE-INDEX"},
{"t":16.83,"p":9649,"txt":"9.222,04"},
{"t":26.94,"p":9649,"txt":"+0,45%"}
],
"headSmall":[
{"t":0.39,"p":9634.3,"txt":"846900 / DE0008469008 / Xetra"},
{"t":16.83,"p":9634.3,"txt":"18.03.2014 14:27:16"},
{"t":26.94,"p":9634.3,"txt":"+41,15"}
],
"headRight":[
{"t":31.83,"p":9647.6,"txt":"Hoch: 9.260,84"},
{"t":38.72,"p":9647.6,"txt":"Eröffnung: 9.172,05"},
{"t":31.83,"p":9634.3,"txt":"Tief: 9.105,69"},
{"t":38.72,"p":9634.3,"txt":"Schluss: 9.180,89"}
],
"seps":[
{"t":16.39,"p1":9668,"p2":9625.7},
{"t":26.39,"p1":9668,"p2":9625.7},
{"t":31.39,"p1":9668,"p2":9625.7}
],
"wm":[{"t":40.83,"p":9230,"a":".com","b":"direct"}]
},
"layer":[
{"data":{"name":"wm"},"mark":{"type":"text","align":"right","baseline":"alphabetic","fontSize":37,"font":"DejaVu Sans","fontWeight":"bold","color":"#fdf3d6"},
 "encoding":{"x":{"field":"t","type":"quantitative"},"y":{"field":"p","type":"quantitative"},"text":{"field":"a"}}},
{"data":{"name":"wm"},"mark":{"type":"text","align":"left","baseline":"alphabetic","fontSize":37,"font":"DejaVu Sans","fontWeight":"bold","color":"#f1f1f1","dx":1},
 "encoding":{"x":{"field":"t","type":"quantitative"},"y":{"field":"p","type":"quantitative"},"text":{"field":"b"}}},
{"data":{"name":"fib"},"mark":{"type":"rule","strokeWidth":1.2},
 "encoding":{"y":{"field":"p","type":"quantitative"},"color":{"field":"kind","type":"nominal","scale":{"domain":["main","fib"],"range":["#4f4fd8","#6a6a6a"]},"legend":null}}},
{"data":{"name":"fib"},"mark":{"type":"text","align":"left","baseline":"alphabetic","dy":-3,"fontSize":6.5,"font":"DejaVu Sans","color":"#777777"},
 "encoding":{"x":{"datum":0.86,"type":"quantitative"},"y":{"field":"p","type":"quantitative"},"text":{"field":"lab"}}},
{"data":{"name":"candles"},"mark":{"type":"rule","strokeWidth":1},
 "encoding":{"x":{"field":"t","type":"quantitative"},"y":{"field":"l","type":"quantitative"},"y2":{"field":"h"},
 "color":{"condition":{"test":"datum.c < datum.o","value":"#9a1010"},"value":"#3c9c3c"}}},
{"data":{"name":"candles"},"mark":{"type":"bar","size":3,"orient":"vertical"},
 "encoding":{
 "x":{"field":"t","type":"quantitative","scale":{"domain":[0.72,82.5],"nice":false,"zero":false},
  "axis":{"values":[2,4,6,8,8.5,10.5,12.5,14.5,16.5,17,19,21,23,25,25.5,27.5,29.5,31.5,33.5,34,36,38,40,42,42.5,44.5,46.5,48.5,50.5,51,53,55,57,59,59.5,61.5,63.5,65.5,67.5,68,70,72,74,76,76.5,78.5,80.5],
  "tickCount":200,
  "labelExpr":"format(datum.value % 8.5 + 9, '02d')",
  "grid":true,
  "gridColor":{"condition":{"test":"datum.value % 8.5 === 0","value":"#d8d8d8"},"value":"#e6e6e6"},
  "gridWidth":{"condition":{"test":"datum.value % 8.5 === 0","value":3},"value":1},
  "domain":false,"ticks":false,
  "labelAlign":{"condition":{"test":"datum.value % 8.5 === 0","value":"left"},"value":"center"},
  "labelOffset":{"condition":[{"test":"datum.value % 8.5 === 0","value":-1.5},{"test":"datum.value > 8 && datum.value % 8.5 === 2","value":-6.5}],"value":-3},
  "labelBaseline":"top","labelPadding":0,"labelFontSize":7,"labelColor":"#333333","labelFont":"Liberation Sans Narrow, Liberation Sans",
  "labelOverlap":false,"labelFlush":false,"labelBound":false,
  "title":["© 1996-2010 Interactive Data Managed Solutions AG, all rights reserved.","Implemented and powered by Interactive Data Managed Solutions AG."],
  "titleFontSize":7,"titleFontWeight":"normal","titleColor":"#333333","titleFont":"DejaVu Sans","titleX":379,"titleY":24,"titleAlign":"center","titleBaseline":"alphabetic","titleLineHeight":8.5}},
 "y":{"field":"o","type":"quantitative","scale":{"domain":[8900,9612],"nice":false,"zero":false},
  "axis":{"orient":"right","values":[8900,8925,8950,8975,9000,9025,9050,9075,9100,9125,9150,9175,9200,9225,9250,9275,9300,9325,9350,9375,9400,9425,9450,9475,9500,9525,9550,9575,9600],
  "tickCount":200,
  "labelExpr":"replace(format(datum.value, ','), ',', '.')","grid":true,"gridColor":"#e6e6e6","domain":false,"ticks":true,"tickSize":2,"tickColor":"#999999",
  "labelFontSize":7.2,"labelColor":"#333333","labelFont":"DejaVu Sans","labelPadding":1,"labelOverlap":false,"title":null}},
 "y2":{"field":"c"},
 "color":{"condition":{"test":"datum.c < datum.o","value":"#9a1010"},"value":"#3c9c3c"}}},
{"data":{"name":"dates"},"mark":{"type":"text","align":"left","baseline":"top","fontSize":7.5,"font":"Liberation Sans Narrow, Liberation Sans","color":"#333333","dx":-1},
 "encoding":{"x":{"field":"t","type":"quantitative"},"y":{"datum":8889,"type":"quantitative"},"text":{"field":"d"}}},
{"data":{"name":"headBig"},"mark":{"type":"text","align":"left","baseline":"alphabetic","fontSize":10,"fontWeight":"bold","font":"Liberation Sans"},
 "encoding":{"x":{"field":"t","type":"quantitative"},"y":{"field":"p","type":"quantitative"},"text":{"field":"txt"},
 "color":{"condition":{"test":"indexof(datum.txt, '+') === 0","value":"#22a022"},"value":"#000000"}}},
{"data":{"name":"headSmall"},"mark":{"type":"text","align":"left","baseline":"alphabetic","fontSize":6.5,"font":"DejaVu Sans"},
 "encoding":{"x":{"field":"t","type":"quantitative"},"y":{"field":"p","type":"quantitative"},"text":{"field":"txt"},
 "color":{"condition":{"test":"indexof(datum.txt, '+') === 0","value":"#22a022"},"value":"#333333"}}},
{"data":{"name":"headRight"},"mark":{"type":"text","align":"left","baseline":"alphabetic","fontSize":7.4,"font":"DejaVu Sans","color":"#333333"},
 "encoding":{"x":{"field":"t","type":"quantitative"},"y":{"field":"p","type":"quantitative"},"text":{"field":"txt"}}},
{"data":{"name":"seps"},"mark":{"type":"rule","color":"#c8c8c8","strokeWidth":1},
 "encoding":{"x":{"field":"t","type":"quantitative"},"y":{"field":"p1","type":"quantitative"},"y2":{"field":"p2"}}}
]
}
